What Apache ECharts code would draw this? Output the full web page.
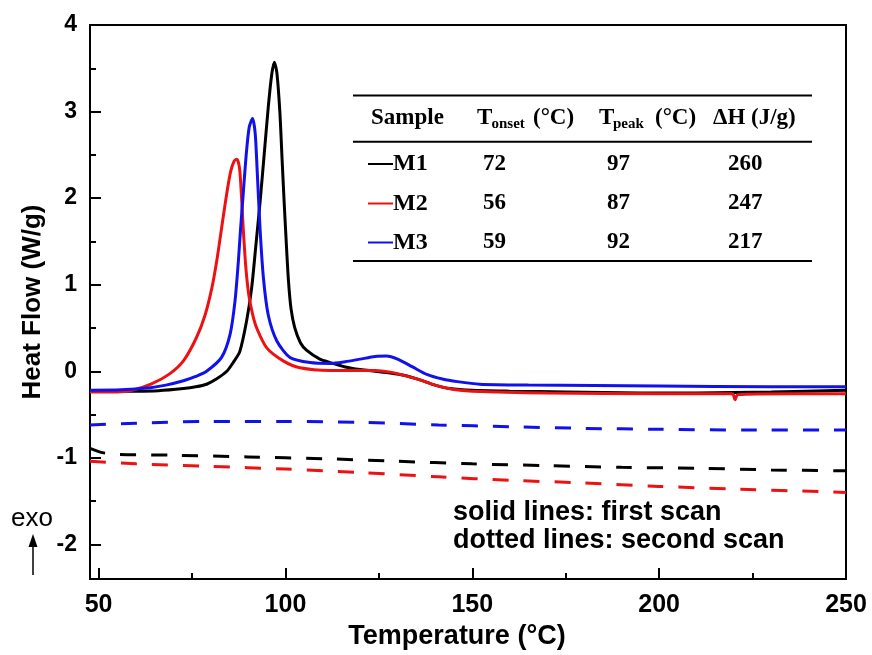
<!DOCTYPE html>
<html>
<head>
<meta charset="utf-8">
<script src="https://cdn.jsdelivr.net/npm/echarts@6/dist/echarts.min.js"></script>
<style>
  html, body { margin: 0; padding: 0; background: #fff; }
  #chart { width: 872px; height: 655px; }
</style>
</head>
<body>
<div id="chart"></div>
<script>
// DSC heat-flow curves, first scan (solid) and second scan (dashed)
const xTicks = [50, 100, 150, 200, 250];
const xMinorTicks = [75, 125, 175, 225];
const yTicks = [-2, -1, 0, 1, 2, 3, 4];
const yMinorTicks = [-1.5, -0.5, 0.5, 1.5, 2.5, 3.5];

const m1First = [[47.7,-0.23],[60,-0.23],[66,-0.225],[72.7,-0.2],[76,-0.18],[78.9,-0.15],[81.5,-0.09],[84.3,0.0],[86,0.1],[87.8,0.23],[89.6,0.58],[90.95,0.96],[92.1,1.46],[93.2,1.95],[94.3,2.5],[95.4,3.05],[96.3,3.42],[97,3.57],[97.7,3.45],[98.5,3.0],[99.1,2.45],[99.6,2.0],[100.2,1.5],[100.8,1.05],[101.5,0.72],[102.5,0.5],[104,0.33],[105.7,0.24],[109.2,0.14],[112,0.1],[116,0.05],[120,0.02],[124,0.0],[128,-0.02],[132,-0.05],[136,-0.1],[140,-0.16],[144,-0.2],[150,-0.22],[160,-0.23],[175,-0.24],[195,-0.25],[210,-0.25],[230,-0.24],[250,-0.22]];
const m2First = [[47.7,-0.24],[55,-0.24],[59,-0.22],[64,-0.15],[69,-0.03],[72.7,0.12],[76.2,0.39],[78.5,0.65],[80.3,0.96],[81.6,1.27],[82.9,1.65],[84.1,2.0],[85.3,2.3],[86.3,2.43],[87,2.45],[87.7,2.35],[88.2,2.05],[88.7,1.65],[89.4,1.2],[90.2,0.88],[91.2,0.66],[92.3,0.5],[95,0.27],[99.4,0.12],[103.9,0.04],[112,0.01],[118,0.01],[124,0.01],[128,-0.01],[132,-0.05],[136,-0.1],[140,-0.16],[145,-0.21],[150,-0.23],[170,-0.25],[200,-0.26],[219.6,-0.26],[220.3,-0.33],[221,-0.27],[235,-0.26],[250,-0.26]];
const m3First = [[47.7,-0.22],[56,-0.215],[63.8,-0.19],[68,-0.16],[72.7,-0.11],[76,-0.06],[78.9,0.0],[82.9,0.16],[85.2,0.43],[86.5,0.81],[87.4,1.27],[88,1.65],[88.7,2.05],[89.5,2.5],[90.3,2.82],[91.2,2.92],[91.9,2.75],[92.4,2.35],[93.2,1.65],[94.1,1.08],[95.4,0.65],[97.7,0.35],[101.2,0.16],[106.6,0.1],[112,0.09],[116,0.11],[120,0.14],[124,0.17],[127,0.175],[130,0.14],[134,0.05],[138,-0.04],[142,-0.09],[146,-0.12],[152,-0.15],[165,-0.16],[200,-0.17],[230,-0.18],[250,-0.18]];

const m1Second = [[47.7,-0.89],[51,-0.94],[55,-0.96],[70,-0.97],[90,-0.99],[110,-1.01],[130,-1.04],[150,-1.07],[170,-1.09],[190,-1.11],[210,-1.12],[230,-1.14],[250,-1.15]];
const m2Second = [[47.7,-1.04],[60,-1.07],[80,-1.10],[100,-1.13],[120,-1.17],[141,-1.22],[160,-1.26],[180,-1.29],[200,-1.33],[220,-1.36],[250,-1.40]];
const m3Second = [[47.7,-0.62],[60,-0.60],[80,-0.58],[100,-0.58],[120,-0.59],[141,-0.62],[160,-0.64],[180,-0.66],[200,-0.67],[225,-0.68],[250,-0.68]];

// Summary table
const samples = ['M1', 'M2', 'M3'];
const sampleColors = ['#000000', '#ee1111', '#1111ee'];
const tOnset = [72, 56, 59];
const tPeak = [97, 87, 92];
const deltaH = [260, 247, 217];

const SANS = '"Liberation Sans", Arial, sans-serif';
const SERIF = '"Liberation Serif", "Times New Roman", serif';

const chart = echarts.init(document.getElementById('chart'), null, { renderer: 'canvas' });

function solid(name, data, color) {
  return {
    name, type: 'line', data, xAxisIndex: 0, yAxisIndex: 0,
    showSymbol: false, smooth: 0.25, animation: false,
    lineStyle: { color, width: 3 }
  };
}
function dashed(name, data, color) {
  return {
    name, type: 'line', data, xAxisIndex: 0, yAxisIndex: 0,
    showSymbol: false, smooth: 0.3, animation: false,
    lineStyle: { color, width: 3, type: [16, 15] }
  };
}

const graphic = [];
// table rules
const tableL = 353, tableR = 812;
[95.5, 141.7, 261].forEach(y => {
  graphic.push({ type: 'line', shape: { x1: tableL, y1: y, x2: tableR, y2: y }, style: { stroke: '#000', lineWidth: 2 } });
});
function txt(text, x, y, font, opts) {
  graphic.push({
    type: 'text', x, y,
    style: Object.assign({ text, font, fill: '#000', textAlign: 'left', textVerticalAlign: 'middle' }, opts || {})
  });
}
const hFont = 'bold 23px ' + SERIF;
const subFont = 'bold 15px ' + SERIF;
txt('Sample', 371, 118.5, hFont);
txt('T', 477, 118.5, hFont);
txt('onset', 491.5, 124, subFont);
txt('(\u00B0C)', 533, 118.5, hFont);
txt('T', 599, 118.5, hFont);
txt('peak', 613, 124, subFont);
txt('(\u00B0C)', 655, 118.5, hFont);
txt('\u0394H (J/g)', 713, 118.5, hFont);

const rowY = [164, 203.5, 242.5];
samples.forEach((s, i) => {
  const y = rowY[i];
  graphic.push({ type: 'line', shape: { x1: 368, y1: y, x2: 393, y2: y }, style: { stroke: sampleColors[i], lineWidth: 2 } });
  txt(s, 393, y, 'bold 24px ' + SERIF);
  txt(String(tOnset[i]), 483, y, hFont);
  txt(String(tPeak[i]), 607, y, hFont);
  txt(String(deltaH[i]), 728, y, hFont);
});

// annotations
txt('solid lines: first scan', 453, 513, 'bold 27px ' + SANS);
txt('dotted lines: second scan', 453, 541, 'bold 27px ' + SANS);
txt('exo', 11, 519, '26px ' + SANS);
graphic.push({ type: 'line', shape: { x1: 33, y1: 575, x2: 33, y2: 545 }, style: { stroke: '#000', lineWidth: 1.5 } });
graphic.push({ type: 'polygon', shape: { points: [[33, 534], [28.5, 547], [37.5, 547]] }, style: { fill: '#000' } });

const gridBox = { left: 90, right: 26, top: 25, bottom: 73 };

const option = {
  backgroundColor: '#fff',
  animation: false,
  grid: Object.assign({ show: true, borderColor: '#000', borderWidth: 2, backgroundColor: 'transparent' }, gridBox),
  xAxis: [
    {
      type: 'value', min: 47.7, max: 250, position: 'bottom',
      name: 'Temperature (\u00B0C)', nameLocation: 'middle', nameGap: 44,
      nameTextStyle: { fontFamily: SANS, fontWeight: 'bold', fontSize: 27, color: '#000', padding: [0, 22, 0, 0] },
      axisLine: { show: true, onZero: false, lineStyle: { color: '#000', width: 2 } },
      axisTick: { show: true, inside: true, length: 11, customValues: xTicks, lineStyle: { color: '#000', width: 2 } },
      axisLabel: { show: true, customValues: xTicks, margin: 14, fontFamily: SANS, fontWeight: 'bold', fontSize: 25, color: '#000' },
      splitLine: { show: false }
    },
    {
      type: 'value', min: 47.7, max: 250, position: 'bottom',
      axisLine: { show: false, onZero: false },
      axisTick: { show: true, inside: true, length: 6, customValues: xMinorTicks, lineStyle: { color: '#000', width: 2 } },
      axisLabel: { show: false },
      splitLine: { show: false }
    }
  ],
  yAxis: [
    {
      type: 'value', min: -2.4, max: 4, position: 'left',
      name: 'Heat Flow (W/g)', nameLocation: 'middle', nameGap: 43,
      nameTextStyle: { fontFamily: SANS, fontWeight: 'bold', fontSize: 26, color: '#000' },
      axisLine: { show: true, onZero: false, lineStyle: { color: '#000', width: 2 } },
      axisTick: { show: true, inside: true, length: 11, customValues: yTicks, lineStyle: { color: '#000', width: 2 } },
      axisLabel: { show: true, customValues: yTicks, margin: 13, fontFamily: SANS, fontWeight: 'bold', fontSize: 23, color: '#000',
        formatter: v => (v < 0 ? '-' + Math.abs(v) : String(v)) },
      splitLine: { show: false }
    },
    {
      type: 'value', min: -2.4, max: 4, position: 'left',
      axisLine: { show: false, onZero: false },
      axisTick: { show: true, inside: true, length: 6, customValues: yMinorTicks, lineStyle: { color: '#000', width: 2 } },
      axisLabel: { show: false },
      splitLine: { show: false }
    }
  ],
  series: [
    dashed('M1 second scan', m1Second, '#000000'),
    dashed('M2 second scan', m2Second, '#ee1111'),
    dashed('M3 second scan', m3Second, '#1111ee'),
    solid('M1 first scan', m1First, '#000000'),
    solid('M2 first scan', m2First, '#ee1111'),
    solid('M3 first scan', m3First, '#1111ee')
  ],
  graphic
};
chart.setOption(option);
</script>
</body>
</html>
